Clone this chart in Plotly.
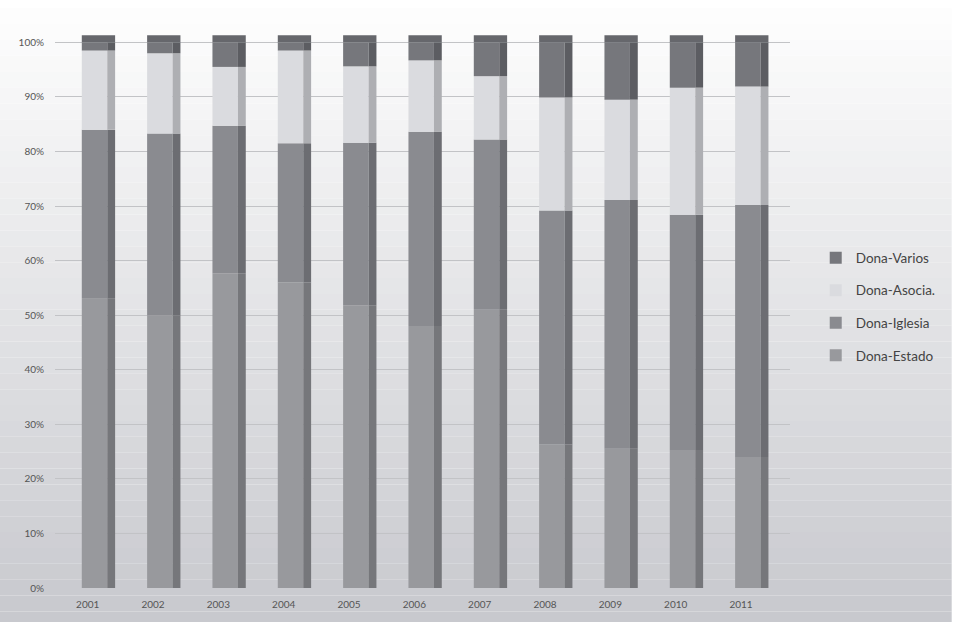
import numpy as np
import plotly.graph_objects as go

# Share of donations by source, per year (percent of total)
years = ["2001", "2002", "2003", "2004", "2005", "2006", "2007", "2008", "2009", "2010", "2011"]
dona_estado = [53.0, 50.0, 57.7, 56.0, 51.8, 48.0, 51.0, 26.3, 25.5, 25.3, 24.0]
dona_iglesia = [31.0, 33.3, 27.0, 25.5, 29.8, 35.6, 31.2, 42.9, 45.6, 43.1, 46.2]
dona_asocia = [14.5, 14.7, 10.8, 17.0, 14.0, 13.1, 11.6, 20.7, 18.4, 23.3, 21.7]
dona_varios = [1.5, 2.0, 4.5, 1.5, 4.4, 3.3, 6.2, 10.1, 10.5, 8.3, 8.1]

pct_ticks = [0, 10, 20, 30, 40, 50, 60, 70, 80, 90, 100]
pct_labels = ["0%", "10%", "20%", "30%", "40%", "50%", "60%", "70%", "80%", "90%", "100%"]

# name, values, front colour, side colour, legend rank
series = [
    ("Dona-Estado", dona_estado, "#98999d", "#76777b", 4),
    ("Dona-Iglesia", dona_iglesia, "#8a8b90", "#6c6d72", 3),
    ("Dona-Asocia.", dona_asocia, "#dadbdf", "#aeafb3", 2),
    ("Dona-Varios", dona_varios, "#76777c", "#5c5d62", 1),
]

x = np.arange(len(years))
FRONT_OFF, FRONT_W = -0.09, 0.39
SIDE_OFF, SIDE_W = FRONT_OFF + FRONT_W, 0.12

fig = go.Figure()

# soft vertical background gradient
n_strips = 40
top_rgb = np.array([255, 255, 255])
bot_rgb = np.array([200, 201, 206])
for i in range(n_strips):
    t = i / (n_strips - 1)
    c = (top_rgb * (1 - t) + bot_rgb * t).astype(int)
    fig.add_shape(type="rect", xref="paper", yref="paper", layer="below",
                  x0=-0.08, x1=1.22, y0=1.06 - (i + 1) * 1.13 / n_strips,
                  y1=1.06 - i * 1.13 / n_strips,
                  fillcolor=f"rgb({c[0]},{c[1]},{c[2]})", line_width=0)

base = np.zeros(len(years))
for name, vals, front, side, rank in series:
    v = np.array(vals, dtype=float)
    fig.add_trace(go.Bar(
        x=x, y=v, base=base, offset=FRONT_OFF, width=FRONT_W,
        marker=dict(color=front, line_width=0), name=name,
        legendgroup=name, legendrank=rank, showlegend=True, hoverinfo="skip"))
    fig.add_trace(go.Bar(
        x=x, y=v, base=base, offset=SIDE_OFF, width=SIDE_W,
        marker=dict(color=side, line_width=0), name=name,
        legendgroup=name, legendrank=rank, showlegend=False, hoverinfo="skip"))
    base = base + v

# dark cap on top of each column
fig.add_trace(go.Bar(
    x=x, y=np.full(len(years), 1.3), base=base, offset=FRONT_OFF,
    width=FRONT_W + SIDE_W, marker=dict(color="#66676c", line_width=0),
    showlegend=False, hoverinfo="skip"))

fig.update_layout(
    width=953, height=622,
    margin=dict(l=55, r=153, t=26, b=32),
    barmode="overlay",
    paper_bgcolor="rgba(0,0,0,0)",
    plot_bgcolor="rgba(0,0,0,0)",
    font=dict(family="Lato, 'Open Sans', sans-serif", color="#555555"),
    xaxis=dict(range=[-0.5, 10.75], tickvals=x, ticktext=years,
               showgrid=False, zeroline=False, showline=False,
               tickfont=dict(size=10, color="#555555"), ticks="",
               ticklabelstandoff=9),
    yaxis=dict(range=[0, 103], tickvals=pct_ticks, ticktext=pct_labels,
               showgrid=True, gridcolor="#c2c3c6", gridwidth=1,
               zeroline=False, showline=False,
               tickfont=dict(size=10, color="#555555"), ticks="",
               ticklabelstandoff=10),
    legend=dict(x=1.035, y=0.615, xanchor="left", yanchor="top",
                traceorder="grouped", tracegroupgap=12,
                font=dict(size=13.5, color="#444444"),
                bgcolor="rgba(0,0,0,0)", itemwidth=30),
    showlegend=True,
)

fig.write_html("out.html")
